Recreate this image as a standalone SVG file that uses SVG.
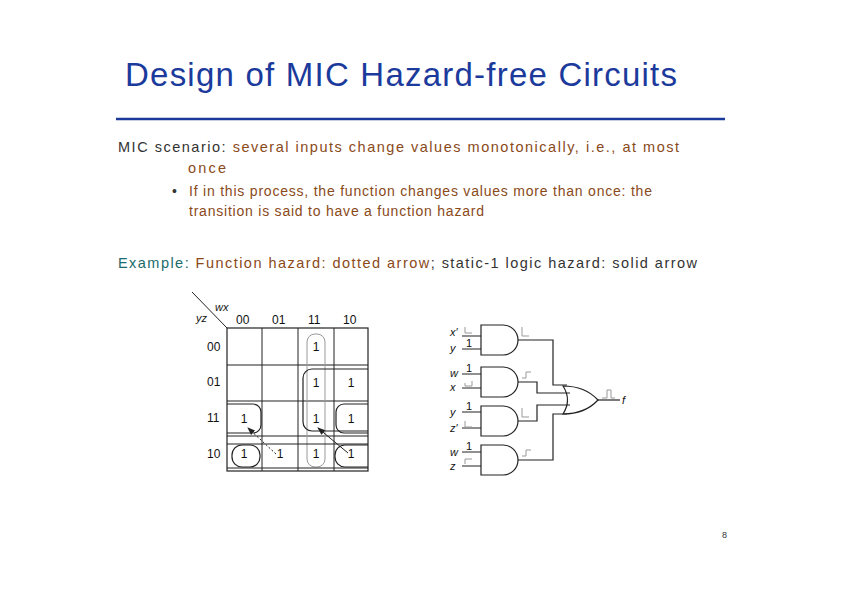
<svg xmlns="http://www.w3.org/2000/svg" width="842" height="596" viewBox="0 0 842 596">
<style>
text{font-family:"Liberation Sans",Arial,sans-serif}
.g{fill:none;stroke:#222;stroke-width:1.2}
.w{fill:none;stroke:#222;stroke-width:1.2}
.lg{fill:none;stroke:#999;stroke-width:1}
.k{font-size:12px;fill:#111}
.i{font-size:11px;font-style:italic;fill:#111}
</style>
<rect width="842" height="596" fill="#fff"/>
<g id="title"><text x="125" y="86" font-size="33" fill="#1b3a9c" textLength="552" lengthAdjust="spacing">Design of MIC Hazard-free Circuits</text>
<line x1="116" y1="119" x2="725" y2="119" stroke="#1b3a9c" stroke-width="2.5"/></g>
<g id="body" font-size="14.5" fill="#333">
<text x="118" y="152" textLength="561" lengthAdjust="spacing">MIC scenario: <tspan fill="#8a4a1a">several inputs change values monotonically, i.e., at most</tspan></text>
<text x="188" y="173" fill="#8a4a1a" textLength="38" lengthAdjust="spacing">once</text>
<text x="172" y="196" font-size="14" fill="#333">•</text>
<text x="189" y="196" font-size="14" fill="#8a4a1a" textLength="463" lengthAdjust="spacing">If in this process, the function changes values more than once: the</text>
<text x="189" y="216" font-size="14" fill="#8a4a1a" textLength="295" lengthAdjust="spacing">transition is said to have a function hazard</text>
<text x="118" y="268" textLength="579" lengthAdjust="spacing"><tspan fill="#1a6b6b">Example: </tspan><tspan fill="#8a4a1a">Function hazard: dotted arrow</tspan>; static-1 logic hazard: solid arrow</text>
<text x="722" y="538" font-size="9">8</text>
</g>
<g id="kmap">
<line x1="192" y1="292" x2="227" y2="328" stroke="#222"/>
<text x="215" y="311" class="i">wx</text><text x="196" y="322" class="i">yz</text>
<text x="236" y="324" class="k">00</text><text x="272" y="324" class="k">01</text><text x="308" y="324" class="k">11</text><text x="343" y="324" class="k">10</text>
<text x="207" y="351" class="k">00</text><text x="207" y="386" class="k">01</text><text x="207" y="422" class="k">11</text><text x="207" y="458" class="k">10</text>
<rect x="227" y="328" width="141" height="143" fill="none" stroke="#222" stroke-width="1.2"/>
<path d="M262 328V471M298 328V471M334 328V471M227 365H368M227 401H368M227 436H368" stroke="#222" stroke-width="1"/>
<g class="k" text-anchor="middle"><text x="316" y="351">1</text><text x="316" y="387">1</text><text x="351" y="387">1</text><text x="244" y="423">1</text><text x="316" y="423">1</text><text x="351" y="423">1</text><text x="244" y="458">1</text><text x="280" y="458">1</text><text x="316" y="458">1</text><text x="351" y="458">1</text></g>
<rect x="307" y="334" width="18" height="133" rx="8" class="lg" stroke="#777"/>
<path d="M368 369H312a9 9 0 0 0-9 9V422a9 9 0 0 0 9 9H368" class="g"/>
<path d="M227 404H253a8 8 0 0 1 8 8V425a8 8 0 0 1-8 8H227" class="g"/>
<path d="M368 404H344a8 8 0 0 0-8 8V425a8 8 0 0 0 8 8H368" class="g"/>
<rect x="232" y="445" width="28" height="22" rx="10" class="g"/>
<path d="M368 445H345a10 10 0 0 0-10 10v2a10 10 0 0 0 10 10H368" class="g"/>
<path d="M227 444H368M227 468H368" class="g" stroke-width="0.9"/>
</g>
<g id="connectors">
<defs><marker id="a" markerWidth="8" markerHeight="8" refX="7" refY="4" orient="auto"><path d="M0 1L8 4L0 7z" fill="#222"/></marker></defs>
<line x1="276" y1="454" x2="248" y2="428" stroke="#222" stroke-dasharray="2 2" marker-end="url(#a)"/>
<line x1="348" y1="453" x2="318" y2="428" stroke="#222" marker-end="url(#a)"/>
<path d="M518 340H553V385H567M518 382H537V393H570M518 421H537V405H570M518 460H553V414H567" class="w"/>
<path d="M462 336H481M462 349H481M462 374H481M462 388H481M462 412H481M462 428H481M462 452H481M462 466H481" class="w"/>
<path d="M598 400H620" class="w"/>
</g>
<g id="gates">
<path d="M481 325H503a15 15 0 0 1 0 30H481Z" class="g" fill="#fff"/>
<path d="M481 367H503a15 15 0 0 1 0 30H481Z" class="g" fill="#fff"/>
<path d="M481 406H503a15 15 0 0 1 0 30H481Z" class="g" fill="#fff"/>
<path d="M481 445H503a15 15 0 0 1 0 30H481Z" class="g" fill="#fff"/>
<path d="M563 386Q585 386 598 400Q585 414 563 414Q572 400 563 386Z" class="g" fill="#fff"/>
</g>
<g id="labels" class="i">
<text x="450" y="336">x′</text><text x="450" y="352">y</text><text x="450" y="377">w</text><text x="450" y="391">x</text><text x="450" y="416">y</text><text x="450" y="432">z′</text><text x="450" y="456">w</text><text x="450" y="470">z</text><text x="622" y="404">f</text>
<g font-style="normal"><text x="466" y="347">1</text><text x="466" y="372">1</text><text x="466" y="410">1</text><text x="466" y="450">1</text></g>
<path d="M465 327V333H472" class="lg" stroke="#333"/>
<path d="M465 383V386H472V381" class="lg" stroke="#333"/>
<path d="M465 421V427H472" class="lg" stroke="#333"/>
<path d="M465 464V459H472" class="lg" stroke="#333"/>
<path d="M522 327V336H529" class="lg" stroke="#333"/>
<path d="M522 378H526V372H531" class="lg" stroke="#333"/>
<path d="M522 408V417H529" class="lg" stroke="#333"/>
<path d="M522 456H526V450H531" class="lg" stroke="#333"/>
<path d="M602 398H607V390H611V398H615" class="lg" stroke="#333"/>
</g>
</svg>
